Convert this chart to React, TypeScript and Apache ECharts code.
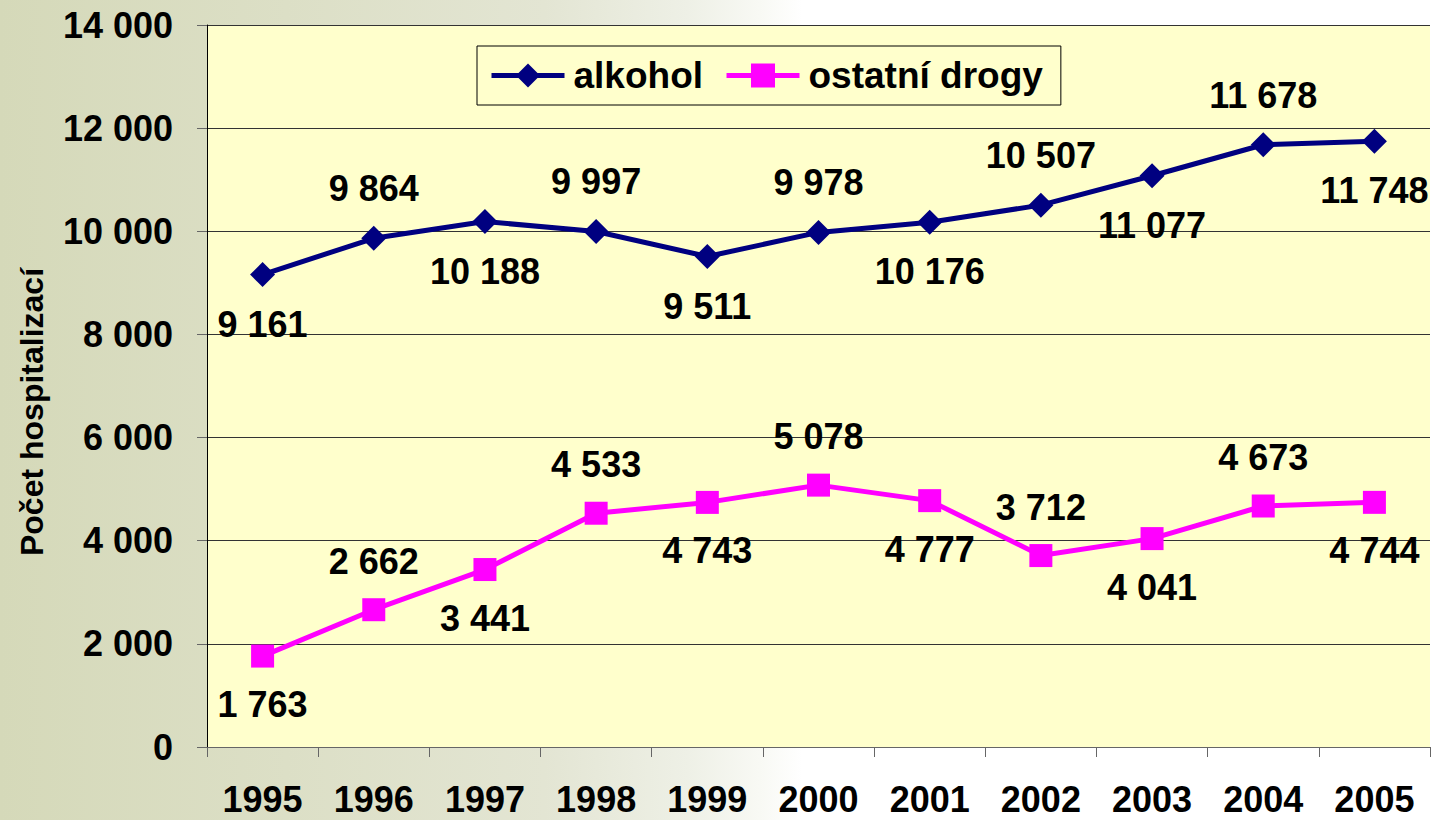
import React, { useEffect, useRef } from "react";
import * as echarts from "echarts";

const years = ["1995", "1996", "1997", "1998", "1999", "2000", "2001", "2002", "2003", "2004", "2005"];
const alkohol = [9161, 9864, 10188, 9997, 9511, 9978, 10176, 10507, 11077, 11678, 11748];
const ostatniDrogy = [1763, 2662, 3441, 4533, 4743, 5078, 4777, 3712, 4041, 4673, 4744];
const yTicks = { min: 0, max: 14000, interval: 2000 };
const yAxisTitle = "Počet hospitalizací";
const seriesNames = ["alkohol", "ostatní drogy"];

const fmt = (v: number) => String(v).replace(/\B(?=(\d{3})+(?!\d))/g, " ");
const FONT = "'Liberation Sans', Arial, sans-serif";

function labelled(values: number[]) {
  return values.map((v, i) => ({
    value: v,
    label: {
      position: i % 2 === 0 ? "bottom" : "top",
      distance: 19,
    },
  }));
}

export default function App() {
  const ref = useRef<HTMLDivElement>(null);
  useEffect(() => {
    if (!ref.current) return;
    const chart = echarts.init(ref.current, null, { renderer: "svg" });
    const labelStyle = {
      show: true,
      formatter: (p: any) => fmt(p.value),
      color: "#000",
      fontSize: 36,
      fontWeight: "bold",
      fontFamily: FONT,
    };
    chart.setOption({
      animation: false,
      grid: {
        left: 207,
        right: 3,
        top: 25,
        bottom: 73,
        show: true,
        backgroundColor: "#FFFFCC",
        borderWidth: 0,
        outerBoundsMode: "none",
        containLabel: false,
      },
      legend: {
        left: 477,
        top: 46,
        padding: [11, 18, 11, 12],
        borderColor: "#000",
        borderWidth: 1,
        itemWidth: 73,
        itemHeight: 30,
        itemGap: 21,
        lineStyle: { width: 5 },
        textStyle: {
          fontSize: 37,
          fontWeight: "bold",
          fontFamily: FONT,
          color: "#000",
          padding: [0, 0, 0, 4],
        },
        data: seriesNames,
      },
      graphic: [
        {
          type: "text",
          x: 32,
          y: 412,
          rotation: Math.PI / 2,
          style: {
            text: yAxisTitle,
            fontSize: 32,
            fontWeight: "bold",
            fontFamily: FONT,
            fill: "#000",
            align: "center",
            verticalAlign: "middle",
          },
        },
      ],
      xAxis: {
        type: "category",
        data: years,
        boundaryGap: true,
        axisLine: { lineStyle: { color: "#666", width: 1 } },
        axisTick: { show: true, length: 10, lineStyle: { color: "#666" } },
        axisLabel: {
          fontSize: 36,
          fontWeight: "bold",
          fontFamily: FONT,
          color: "#000",
          margin: 34,
        },
        splitLine: { show: false },
      },
      yAxis: {
        type: "value",
        min: yTicks.min,
        max: yTicks.max,
        interval: yTicks.interval,
        axisLine: { show: true, lineStyle: { color: "#000", width: 1 } },
        axisTick: { show: true, length: 10, lineStyle: { color: "#666" } },
        axisLabel: {
          fontSize: 36,
          fontWeight: "bold",
          fontFamily: FONT,
          color: "#000",
          margin: 34,
          formatter: (v: number) => fmt(v),
        },
        splitLine: { show: true, lineStyle: { color: "#333", width: 1 } },
      },
      series: [
        {
          name: seriesNames[0],
          type: "line",
          data: labelled(alkohol),
          symbol: "diamond",
          symbolSize: 25,
          itemStyle: { color: "#000080" },
          lineStyle: { color: "#000080", width: 5 },
          label: labelStyle,
          z: 3,
        },
        {
          name: seriesNames[1],
          type: "line",
          data: labelled(ostatniDrogy),
          symbol: "rect",
          symbolSize: 23,
          itemStyle: { color: "#FF00FF" },
          lineStyle: { color: "#FF00FF", width: 5 },
          label: labelStyle,
          z: 3,
        },
      ],
    });
    return () => chart.dispose();
  }, []);

  return (
    <div
      style={{
        position: "fixed",
        left: 0,
        top: 0,
        width: 1433,
        height: 820,
        background:
          "linear-gradient(to right, #d5d9b9 0%, #dcdfc6 20%, #e3e5d3 38%, #eef0e6 48%, #f8f9f4 53%, #ffffff 56%)",
      }}
    >
      <div ref={ref} style={{ width: 1433, height: 820 }} />
    </div>
  );
}
